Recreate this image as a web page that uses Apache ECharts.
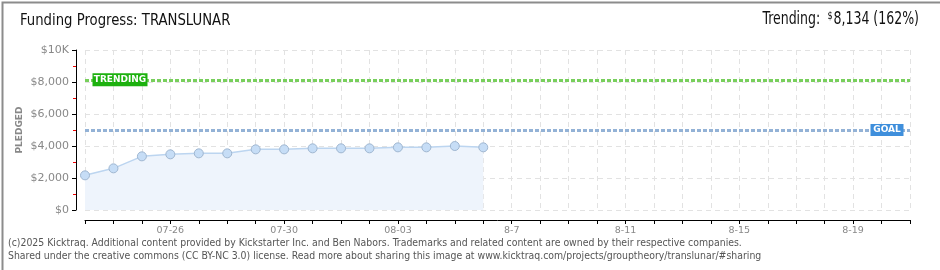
<!DOCTYPE html>
<html><head><meta charset="utf-8">
<script src="https://cdn.jsdelivr.net/npm/echarts@6/dist/echarts.min.js"></script>
<style>html,body{margin:0;padding:0;background:#fff}#c{width:940px;height:270px}</style>
</head><body><div id="c"></div>
<script>
const categories = ['07-23','07-24','07-25','07-26','07-27','07-28','07-29','07-30','07-31','08-01','08-02','08-03','08-04','08-05','08-06','8-7','8-8','8-9','8-10','8-11','8-12','8-13','8-14','8-15','8-16','8-17','8-18','8-19','8-20','8-21'];
const pledged = [2166,2604,3354,3479,3541,3541,3791,3791,3854,3854,3854,3916,3916,4000,3916];
const goalValue = 5000;
const trendValue = 8134;
const trendPct = 162;
const yTicks = [0,2000,4000,6000,8000,10000];

const chart = echarts.init(document.getElementById('c'), null, {renderer:'canvas'});
const fmtY = v => v === 10000 ? '$10K' : '$' + v.toLocaleString('en-US');
const footer1 = '(c)2025 Kicktraq. Additional content provided by Kickstarter Inc. and Ben Nabors. Trademarks and related content are owned by their respective companies.';
const footer2 = 'Shared under the creative commons (CC BY-NC 3.0) license. Read more about sharing this image at www.kicktraq.com/projects/grouptheory/translunar/#sharing';
const narrow = "'Liberation Sans Narrow','DejaVu Sans Condensed',sans-serif";

chart.setOption({
  animation:false,
  grid:{left:85,right:30,top:50,bottom:60},
  xAxis:{
    type:'category', data:categories, boundaryGap:false, offset:10,
    axisLine:{onZero:false,lineStyle:{color:'#000',width:1}},
    axisTick:{interval:0,length:4,lineStyle:{color:'#000'}},
    axisLabel:{interval:(i)=>i%4===3,color:'#888',fontSize:9.5,fontFamily:'DejaVu Sans',margin:6},
    splitLine:{show:true,interval:0,lineStyle:{color:'#e2e2e2',type:[5,4]}}
  },
  yAxis:{
    type:'value', min:yTicks[0], max:yTicks[yTicks.length-1], interval:2000, offset:9,
    axisLine:{show:true,lineStyle:{color:'#000'}},
    axisTick:{show:true,length:4,lineStyle:{color:'#000'}},
    minorTick:{show:true,splitNumber:2,length:3,lineStyle:{color:'#e00'}},
    axisLabel:{formatter:fmtY,color:'#888',fontSize:11,fontFamily:'DejaVu Sans',margin:7},
    splitLine:{show:true,lineStyle:{color:'#e2e2e2',type:[5,4]}}
  },
  series:[{
    type:'line', data:pledged, symbol:'circle', symbolSize:9,
    itemStyle:{color:'#c6ddf6',borderColor:'#9fb6d0',borderWidth:1},
    lineStyle:{color:'#bcd5f0',width:1.5},
    areaStyle:{color:'#eef4fc',opacity:1},
    z:3,
    markLine:{
      silent:true, symbol:'none', label:{show:false},
      data:[
        {yAxis:trendValue,lineStyle:{color:'#78cf5c',width:3,type:[4,2]}},
        {yAxis:goalValue,lineStyle:{color:'#93b2d6',width:3,type:[4,2]}}
      ]
    },
    markPoint:{
      silent:true,
      data:[
        {coord:[0,trendValue],symbol:'rect',symbolSize:[55,13],symbolOffset:[35,0],
         itemStyle:{color:'#1db10f'},
         label:{show:true,position:'inside',formatter:'TRENDING',color:'#fff',fontSize:9,fontWeight:'bold',fontFamily:'DejaVu Sans'}},
        {coord:[categories.length-1,goalValue],symbol:'rect',symbolSize:[33,12],symbolOffset:[-23,0],
         itemStyle:{color:'#3f8fdc'},
         label:{show:true,position:'inside',formatter:'GOAL',color:'#fff',fontSize:9,fontWeight:'bold',fontFamily:'DejaVu Sans'}}
      ]
    }
  }],
  graphic:[
    {type:'rect',left:0,top:0,shape:{width:939,height:269},style:{fill:'none',stroke:'#8c8c8c',lineWidth:2},silent:true},
    {type:'text',x:20,y:13,scaleX:0.92,style:{text:'Funding Progress: TRANSLUNAR',font:"16px "+narrow,fill:'#111'}},
    {type:'text',x:919,y:11,scaleX:0.82,style:{
      text:'Trending: {s|$}'+trendValue.toLocaleString('en-US')+' ('+trendPct+'%)',
      font:"17px "+narrow,fill:'#111',align:'right',
      rich:{s:{fontSize:11,fontFamily:narrow,verticalAlign:'top',padding:[0,1,6,4]}}
    }},
    {type:'text',x:20,y:130,rotation:Math.PI/2,style:{text:'PLEDGED',font:"bold 9px 'DejaVu Sans'",fill:'#888',align:'center',verticalAlign:'middle'}},
    {type:'text',left:8,top:238,style:{text:footer1,font:"10.4px 'DejaVu Sans Condensed',sans-serif",fill:'#555'}},
    {type:'text',left:8,top:251,style:{text:footer2,font:"10.4px 'DejaVu Sans Condensed',sans-serif",fill:'#555'}}
  ]
});
</script></body></html>
